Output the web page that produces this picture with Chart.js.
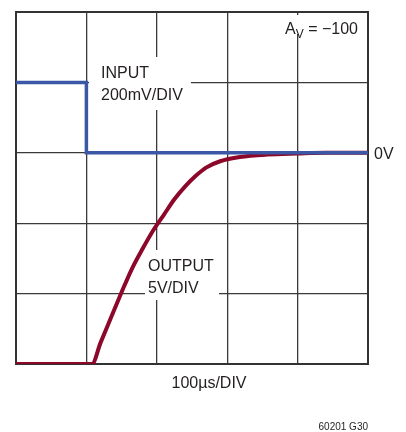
<!DOCTYPE html>
<html>
<head>
<meta charset="utf-8">
<script src="https://cdn.jsdelivr.net/npm/chart.js"></script>
<style>
  html, body { margin: 0; padding: 0; background: #fff; }
  #wrap { position: relative; width: 406px; height: 432px; }
</style>
</head>
<body>
<div id="wrap"><canvas id="stepChart" width="406" height="432"></canvas></div>
<script>
// time in µs (100µs/DIV), amplitude in divisions (0V at 3 div)
var inputTime = [0, 100, 100, 500];
var inputDiv = [4, 4, 3, 3];

var outputTime = [0, 108, 120, 135, 150, 165, 180, 195, 210, 225, 240, 255, 270, 290, 318, 357, 400, 440, 500];
var outputDiv = [0, 0, 0.3, 0.66, 1.02, 1.36, 1.64, 1.9, 2.12, 2.34, 2.52, 2.67, 2.79, 2.88, 2.94, 2.975, 2.99, 3, 3];

var xTicks = [0, 100, 200, 300, 400, 500];
var yTicks = [0, 1, 2, 3, 4, 5];

function toPoints(xs, ys) {
    var pts = [];
    for (var i = 0; i < xs.length; i++) {
        pts.push({ x: xs[i], y: ys[i] });
    }
    return pts;
}

var FONT = '16px "Liberation Sans", Arial, sans-serif';

// white boxes behind the labels, drawn over the grid but under the traces
var labelPlugin = {
    id: 'labels',
    beforeDatasetsDraw: function(chart) {
        var c = chart.ctx;
        var a = chart.chartArea;
        c.save();
        // full frame round the plot
        c.strokeStyle = '#333';
        c.lineWidth = 2;
        c.strokeRect(a.left, a.top, a.right - a.left, a.bottom - a.top);
        c.fillStyle = '#fff';
        c.fillRect(89, 57, 102, 53);
        c.fillRect(145, 250, 74, 50);
        c.fillRect(282, 15, 80, 19);
        c.restore();
    },
    afterDatasetsDraw: function(chart) {
        var c = chart.ctx;
        var xs = chart.scales.x, ys = chart.scales.y;
        c.save();
        c.fillStyle = '#231f20';
        c.font = FONT;
        c.textAlign = 'left';
        c.textBaseline = 'alphabetic';
        c.fillText('INPUT', 101, 78);
        c.fillText('200mV/DIV', 101, 100);
        c.fillText('OUTPUT', 148, 271);
        c.fillText('5V/DIV', 148, 293);
        // zero marker
        c.fillText('0V', xs.right + 6, ys.getPixelForValue(3) + 6);
        // gain label
        c.textAlign = 'right';
        c.fillText('= \u2212100', 358, 34);
        var w = c.measureText('= \u2212100 ').width;
        c.font = '12px "Liberation Sans", Arial, sans-serif';
        var wv = c.measureText('V').width;
        c.fillText('V', 358 - w, 38);
        c.font = FONT;
        c.fillText('A', 358 - w - wv, 34);
        // axis caption
        c.textAlign = 'center';
        c.fillText('100\u00b5s/DIV', (xs.left + xs.right) / 2 + 17, 388);
        c.textAlign = 'right';
        c.font = '10px "Liberation Sans", Arial, sans-serif';
        c.fillText('60201 G30', xs.right, 430);
        c.restore();
    }
};

var ctx = document.getElementById('stepChart').getContext('2d');
var stepChart = new Chart(ctx, {
    type: 'line',
    data: {
        datasets: [
            {
                label: 'Input',
                data: toPoints(inputTime, inputDiv),
                borderColor: '#3b57a6',
                borderWidth: 3.5,
                pointRadius: 0,
                tension: 0,
                fill: false
            },
            {
                label: 'Output',
                data: toPoints(outputTime, outputDiv),
                borderColor: '#8c0729',
                borderWidth: 4,
                pointRadius: 0,
                cubicInterpolationMode: 'monotone',
                fill: false
            }
        ]
    },
    options: {
        responsive: false,
        animation: false,
        layout: { padding: { left: 16, top: 12, right: 38, bottom: 68 } },
        plugins: {
            legend: { display: false },
            tooltip: { enabled: false }
        },
        scales: {
            x: {
                type: 'linear',
                min: 0,
                max: 500,
                afterBuildTicks: function(axis) {
                    axis.ticks = xTicks.map(function(v) { return { value: v }; });
                },
                ticks: { display: false },
                grid: { color: '#3a3a3a', lineWidth: 1.3, drawTicks: false },
                border: { color: '#333', width: 2 }
            },
            y: {
                type: 'linear',
                min: 0,
                max: 5,
                afterBuildTicks: function(axis) {
                    axis.ticks = yTicks.map(function(v) { return { value: v }; });
                },
                ticks: { display: false },
                grid: { color: '#3a3a3a', lineWidth: 1.3, drawTicks: false },
                border: { color: '#333', width: 2 }
            }
        }
    },
    plugins: [labelPlugin]
});
</script>
</body>
</html>
